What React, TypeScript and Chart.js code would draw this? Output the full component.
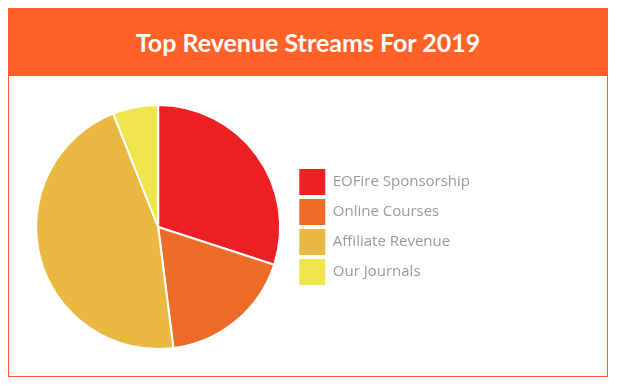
import React, { useEffect, useRef } from "react";
import { Chart, registerables } from "chart.js";

Chart.register(...registerables);

const title = "Top Revenue Streams For 2019";
const categories = ["EOFire Sponsorship", "Online Courses", "Affiliate Revenue", "Our Journals"];
const shares = [30, 18, 46, 6];
const colors = ["#ED2024", "#EE6C28", "#EAB942", "#EFE64E"];

export default function App() {
  const ref = useRef<HTMLCanvasElement | null>(null);

  useEffect(() => {
    if (!ref.current) return;
    const chart = new Chart(ref.current, {
      type: "pie",
      data: {
        labels: categories,
        datasets: [
          {
            data: shares,
            backgroundColor: colors,
            borderColor: "#ffffff",
            borderWidth: 2,
          },
        ],
      },
      options: {
        animation: false,
        responsive: false,
        maintainAspectRatio: false,
        layout: { padding: { left: 12, right: 127, top: 28, bottom: 26 } },
        plugins: {
          tooltip: { enabled: false },
          legend: {
            position: "right",
            labels: {
              boxWidth: 26,
              boxHeight: 26,
              padding: 4,
              color: "#9a9a9a",
              font: { family: "'Open Sans', sans-serif", size: 15 },
              generateLabels: (c: any) => {
                const items = Chart.overrides.pie.plugins.legend.labels.generateLabels(c);
                return items.map((it: any) => ({ ...it, lineWidth: 0, strokeStyle: "transparent" }));
              },
            },
          },
        },
      },
    });
    return () => chart.destroy();
  }, []);

  return (
    <div style={{ width: 600, boxSizing: "border-box", fontFamily: "Lato, sans-serif" }}>
      <div
        style={{
          height: 68,
          background: "#FF6127",
          color: "#fff",
          fontWeight: 700,
          fontSize: 25,
          display: "flex",
          alignItems: "center",
          justifyContent: "center",
        }}
      >
        {title}
      </div>
      <div
        style={{
          height: 301,
          border: "1px solid #FF6127",
          borderTop: "none",
          boxSizing: "border-box",
        }}
      >
        <canvas ref={ref} width={598} height={300} style={{ display: "block" }} />
      </div>
    </div>
  );
}
